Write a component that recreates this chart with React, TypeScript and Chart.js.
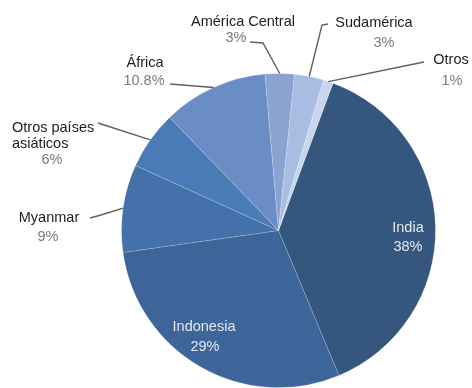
import React, { useEffect, useRef } from "react";
import { Chart, registerables } from "chart.js";

Chart.register(...registerables);

// ---- data ----
const categories = [
  "India",
  "Indonesia",
  "Myanmar",
  "Otros países asiáticos",
  "África",
  "América Central",
  "Sudamérica",
  "Otros",
];
const shares = [38, 29, 9, 6, 10.8, 3, 3, 1];
const pctLabels = ["38%", "29%", "9%", "6%", "10.8%", "3%", "3%", "1%"];
const nameLines = [
  ["India"],
  ["Indonesia"],
  ["Myanmar"],
  ["Otros países", "asiáticos"],
  ["África"],
  ["América Central"],
  ["Sudamérica"],
  ["Otros"],
];

// ---- styles ----
const sliceColors = [
  "#35577f",
  "#3d6599",
  "#4471aa",
  "#4a7bb7",
  "#6a8dc6",
  "#8aa4d2",
  "#a9bde2",
  "#c9d5ed",
];

type LabelLayout = {
  inside: boolean;
  align: CanvasTextAlign;
  nameX: number;
  nameY: number;
  lineGap: number;
  pctX: number;
  pctY: number;
  path: number[][]; // leader line points after the slice edge point
};

const labelLayout: LabelLayout[] = [
  { inside: true, align: "center", nameX: 408, nameY: 232, lineGap: 16, pctX: 408, pctY: 251, path: [] },
  { inside: true, align: "center", nameX: 204, nameY: 331, lineGap: 16, pctX: 205, pctY: 351, path: [] },
  { inside: false, align: "center", nameX: 49, nameY: 222, lineGap: 16, pctX: 48, pctY: 241, path: [[101, 215], [90, 218]] },
  { inside: false, align: "left", nameX: 12, nameY: 132, lineGap: 16, pctX: 52, pctY: 164, path: [[98, 123]] },
  { inside: false, align: "center", nameX: 145, nameY: 67, lineGap: 16, pctX: 144, pctY: 85, path: [[170, 84]] },
  { inside: false, align: "center", nameX: 243, nameY: 26, lineGap: 16, pctX: 236, pctY: 42, path: [[263, 43], [250, 42]] },
  { inside: false, align: "center", nameX: 374, nameY: 27, lineGap: 16, pctX: 384, pctY: 47, path: [[322, 25], [328, 24]] },
  { inside: false, align: "center", nameX: 451, nameY: 64, lineGap: 16, pctX: 452, pctY: 85, path: [[424, 62]] },
];

const FONT = "14.5px 'Liberation Sans', Arial, sans-serif";

const labelPlugin = {
  id: "sliceLabels",
  afterDatasetsDraw(chart: any) {
    const ctx: CanvasRenderingContext2D = chart.ctx;
    const meta = chart.getDatasetMeta(0);
    ctx.save();
    meta.data.forEach((arc: any, i: number) => {
      const lay = labelLayout[i];
      if (!lay) return;
      const { x, y, startAngle, endAngle, outerRadius } = arc.getProps(
        ["x", "y", "startAngle", "endAngle", "outerRadius"],
        true
      );
      if (!lay.inside && lay.path.length) {
        const mid = (startAngle + endAngle) / 2;
        const ex = x + Math.cos(mid) * outerRadius;
        const ey = y + Math.sin(mid) * outerRadius;
        ctx.beginPath();
        ctx.moveTo(ex, ey);
        lay.path.forEach((p) => ctx.lineTo(p[0], p[1]));
        ctx.strokeStyle = "#5f5f5f";
        ctx.lineWidth = 1.4;
        ctx.stroke();
      }
      ctx.font = FONT;
      ctx.textBaseline = "alphabetic";
      ctx.textAlign = lay.align;
      ctx.fillStyle = lay.inside ? "#e4e8ef" : "#1e1e1e";
      nameLines[i].forEach((ln, k) => {
        ctx.fillText(ln, lay.nameX, lay.nameY + k * lay.lineGap);
      });
      ctx.textAlign = "center";
      ctx.fillStyle = lay.inside ? "#e4e8ef" : "#7c7d70";
      ctx.fillText(pctLabels[i], lay.pctX, lay.pctY);
    });
    ctx.restore();
  },
};

export default function App() {
  const ref = useRef<HTMLCanvasElement | null>(null);
  useEffect(() => {
    if (!ref.current) return;
    const chart = new Chart(ref.current, {
      type: "pie",
      data: {
        labels: categories,
        datasets: [
          {
            data: shares,
            backgroundColor: sliceColors,
            borderColor: "rgba(255,255,255,0.18)",
            borderWidth: 1,
          },
        ],
      },
      options: {
        responsive: false,
        animation: false,
        rotation: 20.3,
        layout: { padding: { left: 121, right: 36, top: 73, bottom: 0 } },
        plugins: {
          legend: { display: false },
          tooltip: { enabled: false },
        },
      },
      plugins: [labelPlugin],
    });
    return () => chart.destroy();
  }, []);
  return (
    <div
      style={{
        position: "fixed",
        left: 0,
        top: 0,
        width: 472,
        height: 388,
        background: "#ffffff",
        overflow: "hidden",
      }}
    >
      <canvas ref={ref} width={472} height={388} />
    </div>
  );
}
